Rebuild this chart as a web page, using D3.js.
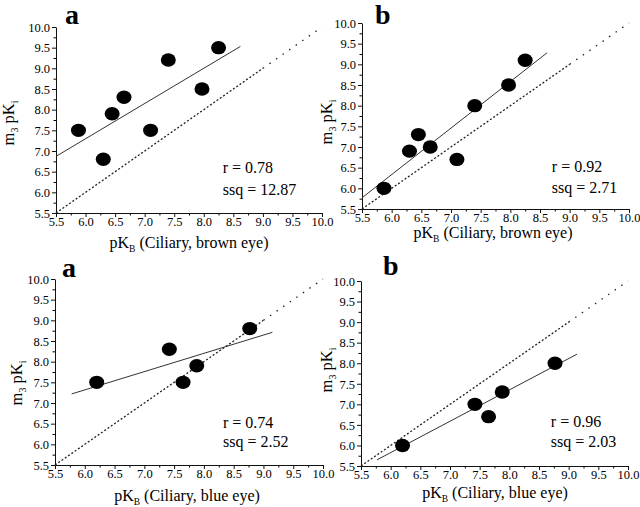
<!DOCTYPE html>
<html><head><meta charset="utf-8">
<script src="https://cdn.jsdelivr.net/npm/d3@7"></script>
<style>
html,body{margin:0;padding:0;background:#fff;}
svg{display:block;}
text{font-family:"Liberation Serif","Times New Roman",serif;fill:#000;}
</style></head>
<body>
<svg id="chart" width="640" height="507"></svg>
<script>
// ---- data ----
const majorTicks = [5.5,6.0,6.5,7.0,7.5,8.0,8.5,9.0,9.5,10.0];
const minorTicks = [5.75,6.25,6.75,7.25,7.75,8.25,8.75,9.25,9.75];

const brownA_x = [5.88,6.30,6.45,6.65,7.10,7.40,7.97,8.25];
const brownA_y = [7.50,6.80,7.90,8.30,7.50,9.20,8.50,9.50];
const brownB_x = [5.87,6.30,6.45,6.65,7.10,7.40,7.97,8.25];
const brownB_y = [6.00,6.90,7.30,7.00,6.70,8.00,8.50,9.10];
const blueA_x  = [6.20,7.42,7.65,7.88,8.77];
const blueA_y  = [7.50,8.30,7.50,7.90,8.80];
const blueB_x  = [6.20,7.42,7.65,7.88,8.77];
const blueB_y  = [6.00,7.00,6.70,7.30,8.00];

const fitBrownA = [[5.50,6.87],[8.62,9.53]];
const fitBrownB = [[5.50,5.77],[8.62,9.28]];
const fitBlueA  = [[5.78,7.22],[9.15,8.71]];
const fitBlueB  = [[5.77,5.65],[9.14,8.22]];

const identityDense  = [[5.5,5.5],[9.0,9.0]];
const identitySparse = [[9.0,9.0],[10.0,10.0]];

const panelLetters = ["a","b","a","b"];
const xTitles = ["(Ciliary, brown eye)","(Ciliary, brown eye)","(Ciliary, blue eye)","(Ciliary, blue eye)"];
const rTexts   = ["r = 0.78","r = 0.92","r = 0.74","r = 0.96"];
const ssqTexts = ["ssq = 12.87","ssq = 2.71","ssq = 2.52","ssq = 2.03"];

// ---- layout ----
const panels = [
  {L:56, R:322, T:27, B:213, xs:brownA_x, ys:brownA_y, fit:fitBrownA,
   letter:[65,24], xt:[189,248], yt:[14,123], stat:[8.32,6.47,5.94]},
  {L:362,R:629, T:23, B:209, xs:brownB_x, ys:brownB_y, fit:fitBrownB,
   letter:[375,24], xt:[493,238], yt:[332,122], stat:[8.70,6.40,5.89]},
  {L:55, R:323, T:279,B:465, xs:blueA_x, ys:blueA_y, fit:fitBlueA,
   letter:[62,277], xt:[187,501], yt:[22,383], stat:[8.32,6.40,5.94]},
  {L:361,R:628, T:281,B:466, xs:blueB_x, ys:blueB_y, fit:fitBlueB,
   letter:[383,275], xt:[495,498], yt:[332,370], stat:[8.70,6.45,5.96]}
];

const svg = d3.select("#chart");
const fmt = d3.format(".1f");

panels.forEach((p,i)=>{
  const x = d3.scaleLinear().domain([5.5,10]).range([p.L,p.R]);
  const y = d3.scaleLinear().domain([5.5,10]).range([p.B,p.T]);
  const g = svg.append("g");

  // minor ticks
  g.append("g").attr("transform",`translate(0,${p.B})`)
    .call(d3.axisBottom(x).tickValues(minorTicks).tickSize(2.5).tickSizeOuter(0).tickFormat(""))
    .call(a=>a.select(".domain").remove());
  g.append("g").attr("transform",`translate(${p.L},0)`)
    .call(d3.axisLeft(y).tickValues(minorTicks).tickSize(2.5).tickSizeOuter(0).tickFormat(""))
    .call(a=>a.select(".domain").remove());

  // major axes
  const xa = g.append("g").attr("transform",`translate(0,${p.B})`)
    .call(d3.axisBottom(x).tickValues(majorTicks).tickFormat(fmt).tickSize(4).tickSizeOuter(0).tickPadding(0));
  const ya = g.append("g").attr("transform",`translate(${p.L},0)`)
    .call(d3.axisLeft(y).tickValues(majorTicks).tickFormat(fmt).tickSize(4).tickSizeOuter(0).tickPadding(2));
  [xa,ya].forEach(a=>{
    a.attr("font-family","Liberation Serif");
    a.selectAll("text").style("font-family","Liberation Serif").style("font-size","12.5px").attr("fill","#111");
    a.selectAll("line,path").attr("stroke","#111").attr("stroke-width",1);
  });
  ya.selectAll("text").attr("dy","0.34em");
  xa.selectAll("text").attr("dy","0.72em");

  // identity line
  const line = d3.line().x(d=>x(d[0])).y(d=>y(d[1]));
  g.append("path").attr("d",line(identityDense)).attr("fill","none")
    .attr("stroke","#222").attr("stroke-width",1.3).attr("stroke-dasharray","2,2");
  g.append("path").attr("d",line(identitySparse)).attr("fill","none")
    .attr("stroke","#222").attr("stroke-width",1.3).attr("stroke-dasharray","1.5,6.5");

  // regression line
  g.append("path").attr("d",line(p.fit)).attr("fill","none")
    .attr("stroke","#333").attr("stroke-width",1);

  // points
  g.selectAll("ellipse.pt").data(d3.zip(p.xs,p.ys)).join("ellipse")
    .attr("class","pt").attr("cx",d=>x(d[0])).attr("cy",d=>y(d[1]))
    .attr("rx",7.5).attr("ry",6.7).attr("fill","#000");

  // panel letter
  g.append("text").attr("x",p.letter[0]).attr("y",p.letter[1])
    .style("font-size","28px").style("font-weight","bold").text(panelLetters[i]);

  // stats
  g.append("text").attr("x",x(p.stat[0])).attr("y",y(p.stat[1]))
    .style("font-size","16px").text(rTexts[i]);
  g.append("text").attr("x",x(p.stat[0])).attr("y",y(p.stat[2]))
    .style("font-size","16px").text(ssqTexts[i]);

  // x title
  const xt = g.append("text").attr("x",p.xt[0]).attr("y",p.xt[1])
    .attr("text-anchor","middle").style("font-size","16px");
  xt.append("tspan").text("pK");
  xt.append("tspan").attr("dy",4).style("font-size","9.5px").text("B");
  xt.append("tspan").attr("dy",-4).text(" " + xTitles[i]);

  // y title
  const yt = g.append("text").attr("transform",`translate(${p.yt[0]},${p.yt[1]}) rotate(-90)`)
    .attr("text-anchor","middle").style("font-size","16.5px");
  yt.append("tspan").text("m");
  yt.append("tspan").attr("dy",4).style("font-size","10px").text("3");
  yt.append("tspan").attr("dy",-4).text(" pK");
  yt.append("tspan").attr("dy",4).style("font-size","10px").text("i");
});
</script>
</body></html>
